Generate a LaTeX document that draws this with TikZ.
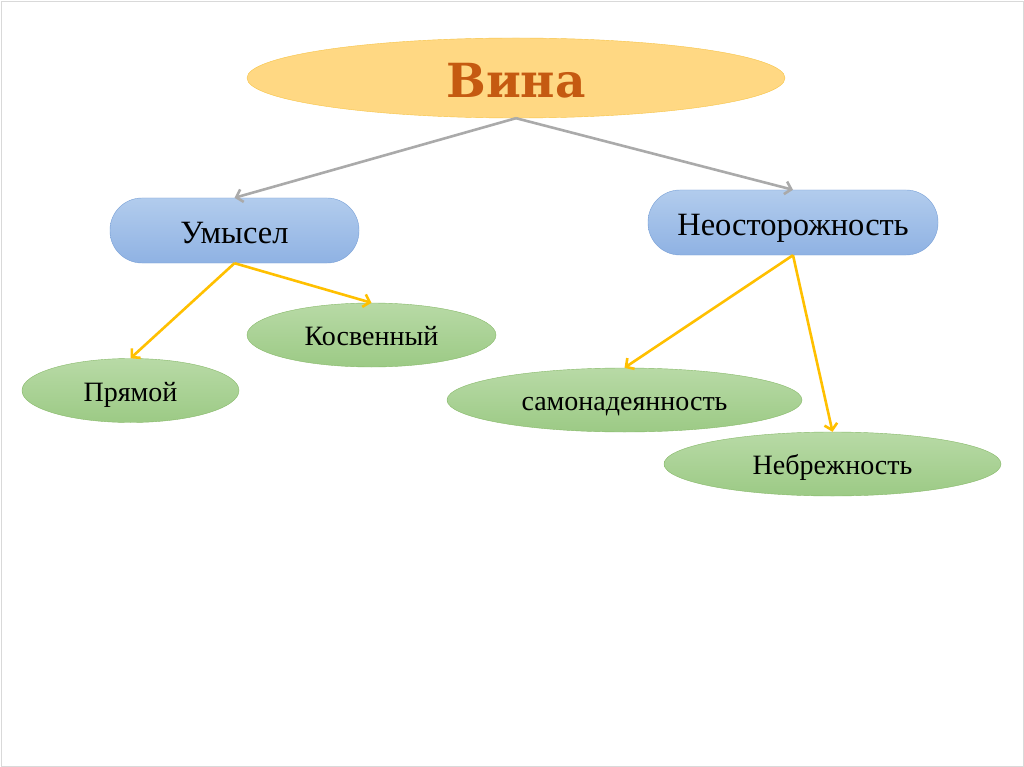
\documentclass[tikz,border=0pt]{standalone}
\usepackage{fontspec}
\setmainfont{Liberation Serif}
\newfontfamily\vinafont{DejaVu Serif}
\usetikzlibrary{shapes.geometric,arrows.meta}
\definecolor{vinafill}{RGB}{255,216,131}
\definecolor{vinaline}{RGB}{247,196,70}
\definecolor{vinatext}{RGB}{197,90,17}
\definecolor{bluetop}{RGB}{178,204,237}
\definecolor{bluebot}{RGB}{143,178,227}
\definecolor{blueline}{RGB}{120,160,215}
\definecolor{greentop}{RGB}{184,218,166}
\definecolor{greenbot}{RGB}{156,202,133}
\definecolor{greenline}{RGB}{135,185,105}
\definecolor{greyarrow}{RGB}{170,170,170}
\definecolor{yellowarrow}{RGB}{255,192,0}
\begin{document}
\begin{tikzpicture}[x=1pt,y=-1pt,
    topic/.style={
      % The shape:
      ellipse,inner sep=0pt,minimum width=538pt,minimum height=80pt,
      text height=40pt,text depth=0pt,
      % The rest
      draw=vinaline,fill=vinafill,text=vinatext,
      font=\vinafont\bfseries\fontsize{47}{52}\selectfont},
    kind/.style={
      % The shape:
      rectangle,inner sep=0pt,minimum height=65pt,rounded corners=32pt,
      text height=26pt,text depth=0pt,
      % The rest
      draw=blueline,top color=bluetop,bottom color=bluebot,
      font=\fontsize{32.5}{36}\selectfont},
    form/.style={
      % The shape:
      ellipse,inner sep=0pt,minimum height=64pt,
      text height=21pt,text depth=0pt,
      % The rest
      draw=greenline,top color=greentop,bottom color=greenbot,
      font=\fontsize{28}{32}\selectfont},
    link/.style={-{Straight Barb[length=6pt,width=13pt]},line width=2.6pt}]
    \useasboundingbox[fill=white] (0,0) rectangle (1024,767);
    \draw[black!15] (1,1) rectangle (1023,766);
    \node (vina)  [topic] at (516,78) {Вина};
    \node (umysel)  [kind,minimum width=249pt] at (234.5,230.5) {Умысел};
    \node (neost)  [kind,minimum width=290pt] at (793,222.5) {Неосторожность};
    \node (pryamoj)  [form,minimum width=217pt] at (130.5,390.5) {Прямой};
    \node (kosv)  [form,minimum width=249pt] at (371.5,335) {Косвенный};
    \node (samonad)  [form,minimum width=355pt] at (624.5,400) {самонадеянность};
    \node (nebrezh)  [form,minimum width=337pt] at (832.5,464) {Небрежность};
    \draw[link,greyarrow]  (vina.south) -- (umysel.north);
    \draw[link,greyarrow]  (vina.south) -- (neost.north);
    \draw[link,yellowarrow]  (umysel.south) -- (pryamoj.north);
    \draw[link,yellowarrow]  (umysel.south) -- (kosv.north);
    \draw[link,yellowarrow]  (neost.south) -- (samonad.north);
    \draw[link,yellowarrow]  (neost.south) -- (nebrezh.north);
  \end{tikzpicture}
\end{document}
